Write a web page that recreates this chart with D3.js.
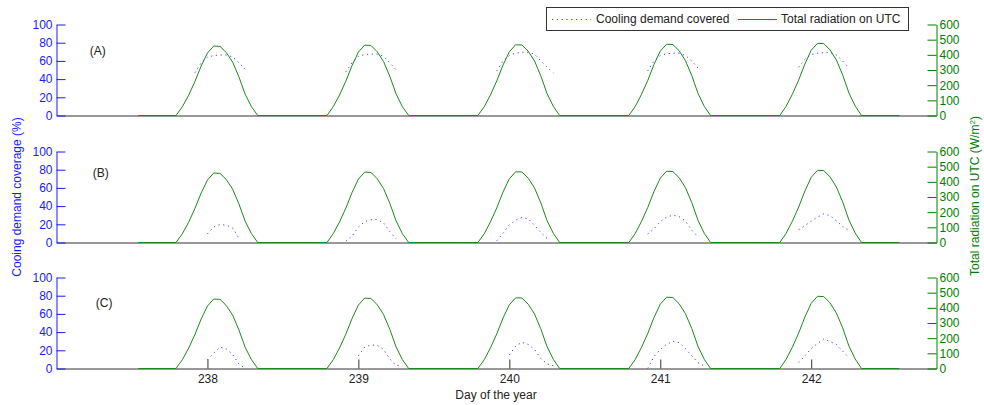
<!DOCTYPE html>
<html>
<head>
<meta charset="utf-8">
<script src="https://cdn.jsdelivr.net/npm/d3@7"></script>
<style>
  body { margin: 0; background: #fff; }
  svg text { font-family: "Liberation Sans", Arial, sans-serif; }
</style>
</head>
<body>
<div id="chart"></div>
<script>
// data
const days = [238, 239, 240, 241, 242];
const seriesStart = 237 + 13 / 24;
const seriesEnd = 242 + 14 / 24;

// hourly radiation around each peak (hours relative to the day tick)
const radHours = [-5, -4, -3, -2, -1, 0, 1, 2, 3, 4, 5, 6, 7, 8];
const radiationByDay = [
    [0, 57, 133, 223, 326, 412, 458, 456, 415, 352, 255, 140, 58, 0],
    [0, 58, 135, 226, 330, 418, 464, 462, 420, 356, 258, 142, 58, 0],
    [0, 57, 136, 228, 333, 420, 466, 465, 424, 360, 262, 144, 60, 0],
    [0, 58, 138, 230, 336, 424, 470, 468, 427, 362, 264, 146, 60, 0],
    [0, 60, 140, 233, 340, 430, 476, 474, 432, 366, 268, 148, 62, 0]
];

// cooling demand coverage (%), hours relative to the day tick
const coverHours = [-2, -1, 0, 1, 2, 3, 4, 5, 6, 7];
const coverA = [
    [47, 58, 64, 66, 66.5, 66.5, 64.5, 58, 51, null],
    [48, 58, 65, 67, 67.5, 67.5, 65, 58, 50, null],
    [49, 60, 66, 68.5, 69.5, 69.5, 67.5, 60, 53, 47],
    [49, 60, 66, 67.8, 68.5, 68.5, 66, 60, 52, null],
    [53, 62, 67, 68.5, 69, 69, 66.5, 60, 52, null]
];
const coverB = [
    [null, null, 9.5, 17, 19.7, 19, 16, 5, null, null],
    [1.5, 7, 17, 23, 25, 25.3, 21.5, 12, 4, null],
    [2, 10, 19.5, 24.5, 27.5, 26, 19, 11, 4.5, null],
    [9.3, 15, 23, 28, 30, 28.5, 23.5, 13.5, 6.3, null],
    [14, 18.5, 23.5, 28, 31.5, 29.5, 24, 17.5, 13, null]
];
const coverC = [
    [null, null, 9.5, 17, 23.5, 21.5, 15.5, 5, 0, null],
    [null, null, 14, 23.5, 25.8, 25.5, 21, 10.5, 3.5, 3],
    [null, null, 15, 24.5, 28.8, 26.5, 21, 11, 5, 3],
    [0, 13, 21, 26.5, 30, 28.5, 22, 14, 6.5, 2.5],
    [6.5, 14, 22, 27.5, 32.5, 29.5, 26.5, 19, 12, null]
];
const coverPanels = [coverA, coverB, coverC];

const panelLabels = ['(A)', '(B)', '(C)'];
const panelLabelPos = [[237.22, 71], [237.24, 77], [237.26, 72]];
const leftTicks = [0, 20, 40, 60, 80, 100];
const rightTicks = [0, 100, 200, 300, 400, 500, 600];

const BLUE = '#1a1aff';
const GREEN = '#008000';
const AXIS = '#333';

const width = 984, height = 405;
const svg = d3.select('#chart').append('svg')
    .attr('width', width)
    .attr('height', height);

const x = d3.scaleLinear().domain([237, 242.83]).range([56.5, 936.5]);

const panels = [
    { top: 24, bottom: 115 },
    { top: 151, bottom: 242 },
    { top: 277, bottom: 368 }
];

// radiation line: flat zero between the day bumps
const radPoints = [{ t: seriesStart, v: 0 }];
days.forEach((d, i) => {
    radHours.forEach((h, j) => radPoints.push({ t: d + h / 24, v: radiationByDay[i][j] }));
});
radPoints.push({ t: seriesEnd, v: 0 });

panels.forEach((p, pi) => {
    const yL = d3.scaleLinear().domain([0, 100]).range([p.bottom + 0.5, p.top + 0.5]);
    const yR = d3.scaleLinear().domain([0, 600]).range([p.bottom + 0.5, p.top + 0.5]);
    const g = svg.append('g');

    // bottom axis (ticks only on the last panel)
    const xAxis = d3.axisBottom(x)
        .tickValues(pi === 2 ? days : [])
        .tickSizeInner(-9)
        .tickSizeOuter(0)
        .tickPadding(6)
        .tickFormat(d3.format('d'));
    const xg = g.append('g')
        .attr('transform', `translate(0,${p.bottom + 0.5})`)
        .call(xAxis);
    xg.select('.domain').attr('stroke', AXIS);
    xg.selectAll('.tick line').attr('stroke', AXIS);
    xg.selectAll('.tick text').attr('fill', '#222').attr('font-size', 12);

    // left axis
    const lg = g.append('g')
        .attr('transform', 'translate(56.5,0)')
        .call(d3.axisLeft(yL).tickValues(leftTicks).tickSizeInner(-9).tickSizeOuter(0).tickPadding(4));
    lg.select('.domain').attr('stroke', BLUE);
    lg.selectAll('.tick line').attr('stroke', BLUE);
    lg.selectAll('.tick text').attr('fill', BLUE).attr('font-size', 12);

    // right axis
    const rg = g.append('g')
        .attr('transform', 'translate(936.5,0)')
        .call(d3.axisRight(yR).tickValues(rightTicks).tickSizeInner(-9).tickSizeOuter(0).tickPadding(3));
    rg.select('.domain').attr('stroke', GREEN);
    rg.selectAll('.tick line').attr('stroke', GREEN);
    rg.selectAll('.tick text').attr('fill', GREEN).attr('font-size', 12);

    // radiation
    g.append('path')
        .datum(radPoints)
        .attr('fill', 'none')
        .attr('stroke', '#1a8a1a')
        .attr('stroke-width', 1)
        .attr('d', d3.line().x(d => x(d.t)).y(d => yR(d.v)));

    // cooling demand coverage
    const coverLine = d3.line()
        .defined(d => d.v !== null)
        .x(d => x(d.t))
        .y(d => yL(d.v));
    coverPanels[pi].forEach((vals, i) => {
        const pts = coverHours.map((h, j) => ({ t: days[i] + h / 24, v: vals[j] }));
        g.append('path')
            .datum(pts)
            .attr('fill', 'none')
            .attr('stroke', '#3a3aff')
            .attr('stroke-width', 1)
            .attr('stroke-dasharray', '1.2,3.6')
            .attr('d', coverLine);
    });

    g.append('text')
        .attr('x', x(panelLabelPos[pi][0]))
        .attr('y', yL(panelLabelPos[pi][1]))
        .attr('dy', '0.35em')
        .attr('font-size', 12)
        .attr('fill', '#222')
        .text(panelLabels[pi]);
});

// axis titles
svg.append('text')
    .attr('transform', 'translate(21,197) rotate(-90)')
    .attr('text-anchor', 'middle')
    .attr('font-size', 12)
    .attr('fill', BLUE)
    .text('Cooing demand coverage (%)');

const rt = svg.append('text')
    .attr('transform', 'translate(979,196) rotate(-90)')
    .attr('text-anchor', 'middle')
    .attr('font-size', 12)
    .attr('fill', GREEN);
rt.append('tspan').text('Total radiation on UTC (W/m');
rt.append('tspan').attr('dy', -4).attr('font-size', 8).text('2');
rt.append('tspan').attr('dy', 4).text(')');

svg.append('text')
    .attr('x', 496)
    .attr('y', 399)
    .attr('text-anchor', 'middle')
    .attr('font-size', 12)
    .attr('fill', '#222')
    .text('Day of the year');

// legend
const legend = svg.append('g');
legend.append('rect')
    .attr('x', 546.5).attr('y', 7.5)
    .attr('width', 362).attr('height', 23)
    .attr('fill', '#fff')
    .attr('stroke', AXIS);
legend.append('line')
    .attr('x1', 552).attr('x2', 591).attr('y1', 19.5).attr('y2', 19.5)
    .attr('stroke', '#3a3aff').attr('stroke-dasharray', '1.2,3.6');
legend.append('text')
    .attr('x', 596).attr('y', 19).attr('dy', '0.35em')
    .attr('font-size', 12).attr('fill', '#222')
    .text('Cooling demand covered');
legend.append('line')
    .attr('x1', 738).attr('x2', 777).attr('y1', 19.5).attr('y2', 19.5)
    .attr('stroke', '#1a8a1a');
legend.append('text')
    .attr('x', 781).attr('y', 19).attr('dy', '0.35em')
    .attr('font-size', 12).attr('fill', '#222')
    .text('Total radiation on UTC');
</script>
</body>
</html>
